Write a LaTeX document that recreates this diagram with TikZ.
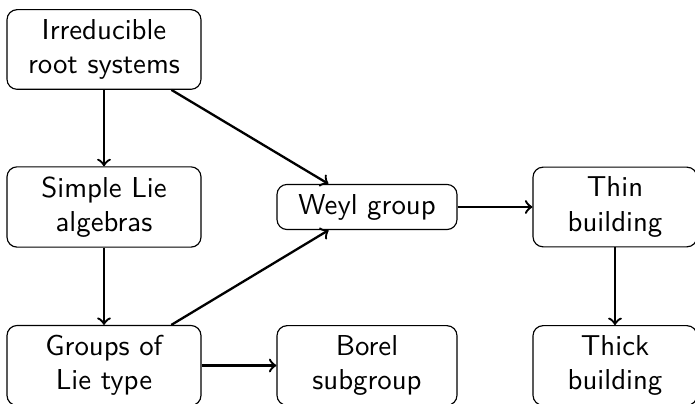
\documentclass[tikz,border=0pt]{standalone}
\usepackage{tikz}
\usetikzlibrary{arrows}
\usetikzlibrary{positioning}

\begin{document}
\begin{tikzpicture}[x=0.3472pt,y=-0.3472pt,
    box/.style={draw,thin,rounded corners=3.5pt,align=center,font=\sffamily},
    pfeil/.style={->,thick}]
    % Rahmen des Bildes (in Pixeln)
    \useasboundingbox (0,0) rectangle (695,404);

    % Linke Spalte
    \node[box,minimum width=194*0.3472pt] (roots) at (104,49.5) {Irreducible\\root systems};
    \node[box,minimum width=194*0.3472pt] (liealg) at (104,207) {Simple Lie\\algebras};
    \node[box,minimum width=194*0.3472pt] (lietype) at (104,365.5) {Groups of\\Lie type};

    % Mittlere Spalte
    \node[box,minimum width=180*0.3472pt] (weyl) at (367,207) {Weyl group};
    \node[box,minimum width=180*0.3472pt] (borel) at (367,365.5) {Borel\\subgroup};

    % Rechte Spalte
    \node[box,minimum width=164*0.3472pt] (thin) at (615,207) {Thin\\building};
    \node[box,minimum width=164*0.3472pt] (thick) at (615,365.5) {Thick\\building};

    % Pfeile
    \draw[pfeil] (roots) -- (liealg);
    \draw[pfeil] (liealg) -- (lietype);
    \draw[pfeil] (roots) -- (weyl);
    \draw[pfeil] (lietype) -- (weyl);
    \draw[pfeil] (lietype) -- (borel);
    \draw[pfeil] (weyl) -- (thin);
    \draw[pfeil] (thin) -- (thick);
\end{tikzpicture}
\end{document}
